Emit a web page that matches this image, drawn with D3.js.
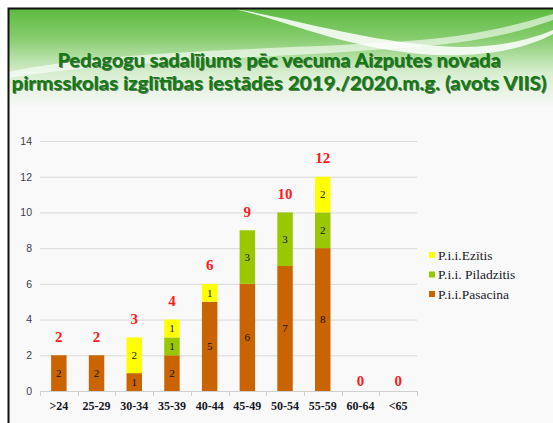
<!DOCTYPE html>
<html>
<head>
<meta charset="utf-8">
<script src="https://cdn.jsdelivr.net/npm/d3@7"></script>
<style>
  html, body { margin: 0; padding: 0; background: #ffffff; }
  svg { display: block; }
</style>
</head>
<body>
<div id="chart"></div>
<script>
// age groups and counts per kindergarten
var categories = ['>24', '25-29', '30-34', '35-39', '40-44', '45-49', '50-54', '55-59', '60-64', '<65'];
var pasacina = [2, 2, 1, 2, 5, 6, 7, 8, 0, 0];
var piladzitis = [0, 0, 0, 1, 0, 3, 3, 2, 0, 0];
var ezitis = [0, 0, 2, 1, 1, 0, 0, 2, 0, 0];
var yTicks = [0, 2, 4, 6, 8, 10, 12, 14];
var titleLines = [
  'Pedagogu sadalījums pēc vecuma Aizputes novada',
  'pirmsskolas izglītības iestādēs 2019./2020.m.g. (avots VIIS)'
];
var seriesNames = ['P.i.i.Ezītis', 'P.i.i. Piladzitis', 'P.i.i.Pasacina'];

var W = 553, H = 423;
var COLORS = { pasacina: '#c96400', piladzitis: '#99c800', ezitis: '#ffff00' };

var svg = d3.select('#chart').append('svg')
  .attr('width', W).attr('height', H);

var defs = svg.append('defs');
var grad = defs.append('linearGradient').attr('id', 'head')
  .attr('x1', 0).attr('y1', 0).attr('x2', 0).attr('y2', 1);
grad.append('stop').attr('offset', '0%').attr('stop-color', '#5cba3f');
grad.append('stop').attr('offset', '30%').attr('stop-color', '#86cc6e');
grad.append('stop').attr('offset', '65%').attr('stop-color', '#d8eed0');
grad.append('stop').attr('offset', '100%').attr('stop-color', '#f9f9f9');

// slide background + header band
svg.append('rect').attr('x', 8).attr('y', 8).attr('width', W).attr('height', H)
  .attr('fill', '#f9f9f9');
svg.append('rect').attr('x', 8).attr('y', 8).attr('width', W).attr('height', 100)
  .attr('fill', 'url(#head)');

// white swooshes in header
svg.append('path')
  .attr('d', 'M235,9 C300,20 360,40 440,46 C490,50 530,40 553,30 L553,34 C520,52 470,58 420,54 C340,46 290,22 235,9 Z')
  .attr('fill', '#ffffff').attr('opacity', 0.85);
svg.append('path')
  .attr('d', 'M8,72 C120,48 300,50 420,40 C480,35 520,24 553,14 L553,20 C510,36 460,44 400,48 C280,58 120,60 8,78 Z')
  .attr('fill', '#ffffff').attr('opacity', 0.6);

// frame
svg.append('path')
  .attr('d', 'M8.5,' + (H + 2) + ' L8.5,8.5 L' + (W + 2) + ',8.5')
  .attr('fill', 'none').attr('stroke', '#111').attr('stroke-width', 2);

// title
var titleY = [67, 90];
var titleW = [443, 535];
titleLines.forEach(function (t, i) {
  [['#0a300a', 1, 0.6], ['#137a13', 0, 1]].forEach(function (s) {
    svg.append('text')
      .attr('x', 279 + s[1]).attr('y', titleY[i] + s[1])
      .attr('text-anchor', 'middle')
      .attr('textLength', titleW[i]).attr('lengthAdjust', 'spacingAndGlyphs')
      .style('font-family', 'Lato, "Open Sans", sans-serif')
      .style('font-weight', 'bold').style('font-size', '19.5px')
      .attr('fill', s[0]).attr('opacity', s[2])
      .text(t);
  });
});

// scales
var x = d3.scaleBand().domain(categories).range([40, 417])
  .paddingInner(0.59).paddingOuter(0.295);
var y = d3.scaleLinear().domain([0, 14]).range([391, 141]);

// gridlines
svg.append('g').selectAll('line').data(yTicks.filter(function (d) { return d > 0; }))
  .enter().append('line')
  .attr('x1', 40).attr('x2', 417)
  .attr('y1', function (d) { return y(d) + 0.5; }).attr('y2', function (d) { return y(d) + 0.5; })
  .attr('stroke', '#d9d9d9').attr('stroke-width', 1);

// y axis labels
var yAxis = svg.append('g').attr('transform', 'translate(32,0)')
  .call(d3.axisLeft(y).tickValues(yTicks).tickSize(0).tickPadding(0));
yAxis.select('.domain').remove();
yAxis.selectAll('text')
  .style('font-family', '"Liberation Sans", Arial, sans-serif')
  .style('font-size', '10.5px').attr('fill', '#3c3c4c');

// x axis
var xAxis = svg.append('g').attr('transform', 'translate(0,391)')
  .call(d3.axisBottom(x).tickSize(0).tickPadding(10));
xAxis.select('.domain').attr('stroke', '#d0d0d0').attr('d', 'M40,0.5H417');
xAxis.selectAll('text')
  .style('font-family', '"Liberation Serif", "Times New Roman", serif')
  .style('font-weight', 'bold').style('font-size', '12px').attr('fill', '#151525');
var boundaries = d3.range(categories.length + 1).map(function (i) { return 40 + i * x.step(); });
xAxis.selectAll('.bnd').data(boundaries).enter().append('line')
  .attr('class', 'bnd')
  .attr('x1', function (d) { return Math.round(d) + 0.5; })
  .attr('x2', function (d) { return Math.round(d) + 0.5; })
  .attr('y1', 0).attr('y2', 5)
  .attr('stroke', '#d0d0d0');

// stacked bars
var rows = categories.map(function (c, i) {
  return { cat: c, pasacina: pasacina[i], piladzitis: piladzitis[i], ezitis: ezitis[i] };
});
var keys = ['pasacina', 'piladzitis', 'ezitis'];
var stacked = d3.stack().keys(keys)(rows);

var layers = svg.append('g').selectAll('g').data(stacked).enter().append('g')
  .attr('fill', function (d) { return COLORS[d.key]; });
layers.selectAll('rect').data(function (d) { return d; }).enter().append('rect')
  .attr('x', function (d) { return x(d.data.cat); })
  .attr('width', x.bandwidth())
  .attr('y', function (d) { return y(d[1]); })
  .attr('height', function (d) { return y(d[0]) - y(d[1]); });

// segment labels
layers.selectAll('text').data(function (d) { return d.filter(function (s) { return s[1] - s[0] > 0; }); })
  .enter().append('text')
  .attr('x', function (d) { return x(d.data.cat) + x.bandwidth() / 2; })
  .attr('y', function (d) { return (y(d[0]) + y(d[1])) / 2; })
  .attr('dy', '0.35em').attr('text-anchor', 'middle')
  .style('font-family', '"Liberation Serif", "Times New Roman", serif')
  .style('font-size', '11px').attr('fill', '#111')
  .text(function (d) { return d[1] - d[0]; });

// totals in red
svg.append('g').selectAll('text').data(rows).enter().append('text')
  .attr('x', function (d) { return x(d.cat) + x.bandwidth() / 2; })
  .attr('y', function (d) {
    var t = d.pasacina + d.piladzitis + d.ezitis;
    return y(t) - (t > 0 ? 19 : 10);
  })
  .attr('dy', '0.35em').attr('text-anchor', 'middle')
  .style('font-family', '"Liberation Serif", "Times New Roman", serif')
  .style('font-weight', 'bold').style('font-size', '15px').attr('fill', '#ff1a1a')
  .text(function (d) { return d.pasacina + d.piladzitis + d.ezitis; });

// legend
var legend = svg.append('g').selectAll('g').data(seriesNames).enter().append('g')
  .attr('transform', function (d, i) { return 'translate(429,' + (255 + i * 19.5) + ')'; });
legend.append('rect').attr('x', 0).attr('y', -3).attr('width', 6).attr('height', 6)
  .attr('fill', function (d, i) { return COLORS[['ezitis', 'piladzitis', 'pasacina'][i]]; });
legend.append('text').attr('x', 9).attr('dy', '0.35em')
  .style('font-family', '"Liberation Serif", "Times New Roman", serif')
  .style('font-size', '13.5px').attr('fill', '#1a1a2a')
  .text(function (d) { return d; });
</script>
</body>
</html>
